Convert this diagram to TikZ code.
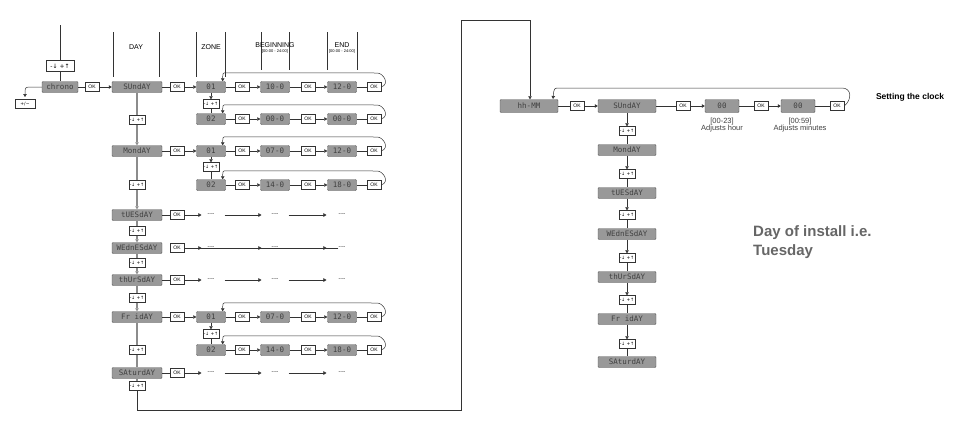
\documentclass[tikz,border=0pt]{standalone}
\usepackage{fontspec}
\setmainfont{Liberation Sans}
\newfontfamily\djfont{DejaVu Sans}
\newfontfamily\lcdfont{DejaVu Sans Mono}
\usetikzlibrary{calc,arrows.meta}
\tikzset{
 disp/.style={fill=black!40,draw=black!65,rounded corners=1pt,minimum height=11pt,inner sep=0pt,font=\lcdfont\fontsize{7.5}{8}\selectfont,text=black!75},
 okb/.style={draw=black!80,fill=white,minimum width=14pt,minimum height=9pt,inner sep=0pt,font=\fontsize{5}{5}\selectfont},
 btn/.style={draw=black!80,fill=white,minimum width=16pt,minimum height=9pt,inner sep=0.5pt,font=\djfont\fontsize{4.5}{5}\selectfont},
 arr/.style={-{Triangle[length=3pt,width=3.5pt]}},
 ln/.style={black!80,line width=0.5pt},
 gl/.style={black!45,line width=1.2pt},
 hdr/.style={font=\fontsize{7}{8}\selectfont,inner sep=0pt},
}
\newcommand\bt{-↓ +↑}
\newcommand\dsh{{-}{-}{-}{-}}
\newcommand\zrow[5]{%
 \node[disp,minimum width=29pt] (#1z) at (211,#2) {#3};
 \node[okb] (#1a) at (242,#2) {OK};
 \node[disp,minimum width=29pt] (#1b) at (275,#2) {#4};
 \node[okb] (#1c) at (308,#2) {OK};
 \node[disp,minimum width=29pt] (#1d) at (342,#2) {#5};
 \node[okb] (#1e) at (374,#2) {OK};
 \draw[ln] (#1z)--(#1a); \draw[ln,arr] (#1a)--(#1b); \draw[ln] (#1b)--(#1c); \draw[ln,arr] (#1c)--(#1d); \draw[ln] (#1d)--(#1e);
 \draw[ln,arr] (#1e.east) .. controls +(9,-3) and +(6,0) .. ($(#1e.east)+(-4,-14)$) -- ($(#1z.north east)+(1,-8.5)$) .. controls ($(#1z.north east)+(-3,-8.5)$) .. ($(#1z.north east)+(-3,0)$);
}
\newcommand\drow[2]{%
 \node[okb] (#1a) at (177,#2) {OK};
 \node[hdr,font=\fontsize{5}{5}\selectfont] (#1b) at (211,#2) {\dsh};
 \node[hdr,font=\fontsize{5}{5}\selectfont] (#1c) at (275,#2) {\dsh};
 \node[hdr,font=\fontsize{5}{5}\selectfont] (#1d) at (342,#2) {\dsh};
 \draw[ln,arr] (#1a)--($(#1b.west)+(-6,0)$);
 \draw[ln,arr] ($(#1b.east)+(10,0)$)--($(#1c.west)+(-10,0)$);
 \draw[ln,arr] ($(#1c.east)+(10,0)$)--($(#1d.west)+(-12,0)$);
}
\begin{document}
\begin{tikzpicture}[x=1pt,y=-1pt]
\useasboundingbox (0,0) rectangle (963,421);
% header
\draw[ln] (60,25)--(60,60);
\foreach \x in {113,159,196,225} \draw[ln] (\x,32)--(\x,77);
\foreach \x in {261,289,327,357} \draw[ln] (\x,32)--(\x,70);
\node[hdr] (hday) at (136,47) {DAY};
\node[hdr] (hzone) at (211,47) {ZONE};
\node[hdr] (hbeg) at (275,45) {BEGINNING};
\node[hdr,font=\fontsize{4}{4}\selectfont] (hbegr) at (275,51) {[00:00 - 24:00]};
\node[hdr] (hend) at (342,45) {END};
\node[hdr,font=\fontsize{4}{4}\selectfont] (hendr) at (342,51) {[00:00 - 24:00]};
\node[btn,minimum width=28pt,minimum height=11pt,font=\djfont\fontsize{6}{7}\selectfont] (b0) at (60,66) {\bt};
\node[disp,minimum width=36pt] (chrono) at (60,87) {chrono};
\draw[ln] (b0)--(chrono);
\node[btn,minimum width=20pt] (pm) at (25,104) {+/−};
\draw[ln,arr] (chrono.west) -- (32,87) .. controls (25,87) .. (25,97);
\node[okb] (ok0) at (92,87) {OK};
\draw[ln] (chrono)--(ok0);
% days
\node[disp,minimum width=50pt] (sun) at (137,87) {SUndAY};
\node[disp,minimum width=50pt] (mon) at (137,151) {MondAY};
\node[disp,minimum width=50pt] (tue) at (137,215) {tUESdAY};
\node[disp,minimum width=50pt] (wed) at (137,248) {WEdnESdAY};
\node[disp,minimum width=50pt] (thu) at (137,280) {thUrSdAY};
\node[disp,minimum width=50pt] (fri) at (137,317) {Fr idAY};
\node[disp,minimum width=50pt] (sat) at (137,373) {SAturdAY};
\draw[ln,arr] (ok0)--(sun);
\node[btn] (d1) at (137,120) {\bt};
\node[btn] (d2) at (137,185) {\bt};
\node[btn] (d3) at (137,231) {\bt};
\node[btn] (d4) at (137,263) {\bt};
\node[btn] (d5) at (137,298) {\bt};
\node[btn] (d6) at (137,350) {\bt};
\node[btn] (d7) at (137,386) {\bt};
\draw[gl] (sun)--(d1); \draw[gl,arr] (d1)--(mon);
\draw[gl] (mon)--(d2); \draw[gl,arr] (d2)--(tue);
\draw[gl] (tue)--(d3); \draw[gl,arr] (d3)--(wed);
\draw[gl] (wed)--(d4); \draw[gl,arr] (d4)--(thu);
\draw[gl] (thu)--(d5); \draw[gl,arr] (d5)--(fri);
\draw[gl] (fri)--(d6); \draw[gl] (d6)--(sat);
\draw[gl] (sat)--(d7);
% zone rows
\node[okb] (sok) at (177,87) {OK};
\node[okb] (mok) at (177,151) {OK};
\node[okb] (fok) at (177,317) {OK};
\zrow{sa}{87}{01}{10-0}{12-0}
\zrow{sb}{119}{02}{00-0}{00-0}
\zrow{ma}{151}{01}{07-0}{12-0}
\zrow{mb}{185}{02}{14-0}{18-0}
\zrow{fa}{317}{01}{07-0}{12-0}
\zrow{fb}{350}{02}{14-0}{18-0}
\draw[ln] (sun)--(sok); \draw[ln,arr] (sok)--(saz);
\draw[ln] (mon)--(mok); \draw[ln,arr] (mok)--(maz);
\draw[ln] (fri)--(fok); \draw[ln,arr] (fok)--(faz);
\node[btn] (zs) at (211,104) {\bt};
\node[btn] (zm) at (211,167) {\bt};
\node[btn] (zf) at (211,334) {\bt};
\draw[ln,arr] (saz)--(zs); \draw[ln] (zs)--(sbz);
\draw[ln,arr] (maz)--(zm); \draw[ln] (zm)--(mbz);
\draw[ln,arr] (faz)--(zf); \draw[ln] (zf)--(fbz);
\drow{tu}{215}
\drow{we}{248}
\drow{th}{280}
\drow{st}{373}
\draw[ln] (tue)--(tua); \draw[ln] (wed)--(wea); \draw[ln] (thu)--(tha); \draw[ln] (sat)--(sta);
% right part
\node[disp,minimum width=58pt,minimum height=13pt] (hh) at (529,106) {hh-MM};
\draw[black!80,line width=0.6pt] (d7)--(137,410)--(461,410)--(461,20)--(530,20);
\draw[ln,arr] (530,20)--(hh.north -| 530,0);
\node[okb] (r1) at (577,106) {OK};
\node[disp,minimum width=58pt,minimum height=13pt] (rsun) at (627,106) {SUndAY};
\node[okb] (r2) at (683,106) {OK};
\node[disp,minimum width=34pt,minimum height=13pt] (rh) at (722,106) {00};
\node[okb] (r3) at (761,106) {OK};
\node[disp,minimum width=34pt,minimum height=13pt] (rm) at (798,106) {00};
\node[okb] (r4) at (837,106) {OK};
\draw[ln] (hh)--(r1); \draw[ln,arr] (r1)--(rsun); \draw[ln] (rsun)--(r2); \draw[ln,arr] (r2)--(rh); \draw[ln] (rh)--(r3); \draw[ln,arr] (r3)--(rm); \draw[ln] (rm)--(r4);
\draw[ln,arr] (r4.east) .. controls (852,100) and (852,88) .. (842,88) -- (560,88) .. controls (554,88) .. (553,99);
\node[font=\fontsize{7.5}{7}\selectfont,align=center,inner sep=0pt,text=black!75] (lh) at (722,125) {[00-23]\\Adjusts hour};
\node[font=\fontsize{7.5}{7}\selectfont,align=center,inner sep=0pt,text=black!75] (lm) at (800,125) {[00:59]\\Adjusts minutes};
\node[font=\bfseries\fontsize{8.5}{9}\selectfont,inner sep=0pt] (clk) at (910,97) {Setting the clock};
\node[disp,minimum width=58pt] (rmon) at (627,150) {MondAY};
\node[disp,minimum width=58pt] (rtue) at (627,193) {tUESdAY};
\node[disp,minimum width=58pt] (rwed) at (627,234) {WEdnESdAY};
\node[disp,minimum width=58pt] (rthu) at (627,277) {thUrSdAY};
\node[disp,minimum width=58pt] (rfri) at (627,319) {Fr idAY};
\node[disp,minimum width=58pt] (rsat) at (627,362) {SAturdAY};
\node[btn] (q1) at (627,131) {\bt};
\node[btn] (q2) at (627,174) {\bt};
\node[btn] (q3) at (627,215) {\bt};
\node[btn] (q4) at (627,258) {\bt};
\node[btn] (q5) at (627,300) {\bt};
\node[btn] (q6) at (627,344) {\bt};
\draw[ln,arr] (rsun)--(q1); \draw[ln] (q1)--(rmon);
\draw[ln,arr] (rmon)--(q2); \draw[ln] (q2)--(rtue);
\draw[ln,arr] (rtue)--(q3); \draw[ln] (q3)--(rwed);
\draw[ln,arr] (rwed)--(q4); \draw[ln] (q4)--(rthu);
\draw[ln,arr] (rthu)--(q5); \draw[ln] (q5)--(rfri);
\draw[ln,arr] (rfri)--(q6); \draw[ln] (q6)--(rsat);
\node[font=\bfseries\fontsize{15}{19}\selectfont,text=black!60,align=left,anchor=north west,inner sep=0pt] (inst) at (753,225) {Day of install i.e.\\Tuesday};
\end{tikzpicture}
\end{document}
